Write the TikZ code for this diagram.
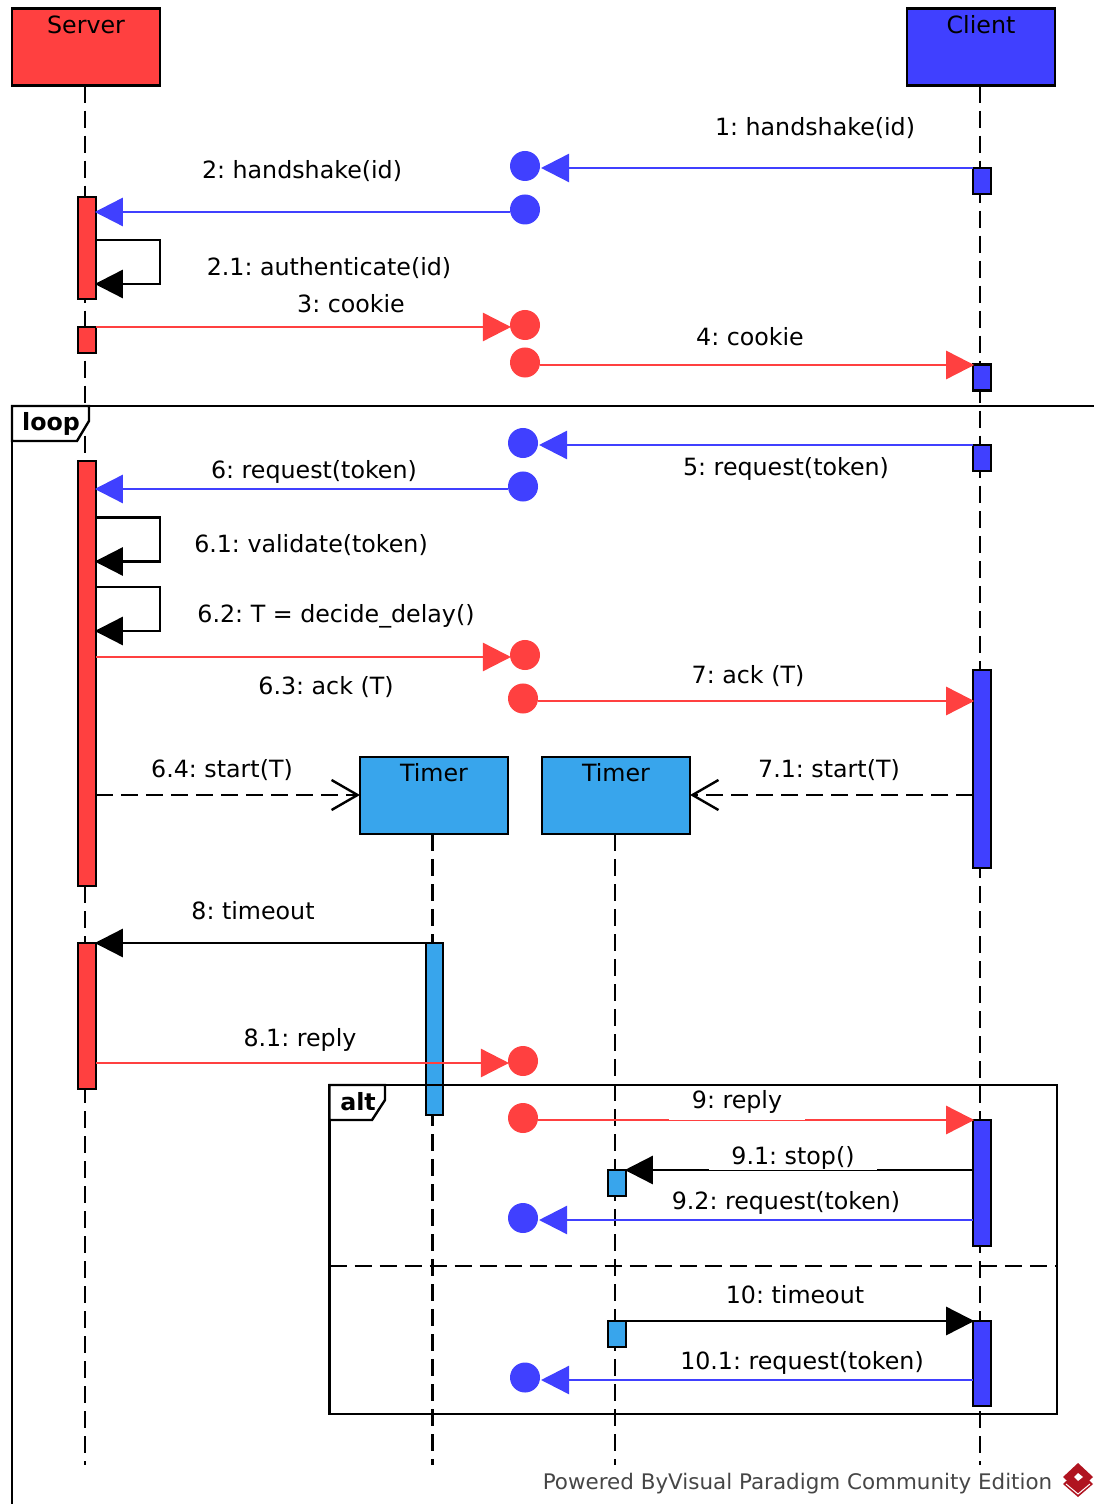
\documentclass[tikz,border=0pt]{standalone}
\usepackage{fontspec}
\setmainfont{DejaVu Sans}
\usetikzlibrary{positioning,arrows.meta}
\definecolor{serverred}{RGB}{255,64,64}
\definecolor{clientblue}{RGB}{64,64,255}
\definecolor{timerblue}{RGB}{56,165,236}
\definecolor{footgray}{RGB}{70,70,70}
\definecolor{logored}{RGB}{176,20,32}
\frenchspacing
\tikzset{
  every node/.style={font=\fontsize{6.75pt}{8pt}\selectfont\frenchspacing,outer sep=0pt},
  headbox/.style={draw=black,line width=.024cm,minimum width=1.48cm,inner sep=0pt,
    text height=.25cm,text depth=.52cm},
  lifeline/.style={line width=.024cm,dash pattern=on .17cm off .08cm},
  actbar/.style={draw=black,line width=.024cm,minimum width=.175cm,inner sep=0pt,anchor=north},
  dotmark/.style={circle,minimum size=.3cm,inner sep=0pt},
  redmsg/.style={draw=serverred,line width=.024cm,shorten >=-.01cm,-{Triangle[length=.28cm,width=.28cm,fill=serverred]}},
  bluemsg/.style={draw=clientblue,line width=.024cm,shorten >=-.01cm,-{Triangle[length=.28cm,width=.28cm,fill=clientblue]}},
  lostmsg/.style={bluemsg,shorten >=.01cm},
  callmsg/.style={draw=black,line width=.024cm,shorten >=-.01cm,-{Triangle[length=.28cm,width=.28cm,fill=black]}},
  startmsg/.style={draw=black,line width=.024cm,dash pattern=on .17cm off .08cm,
    -{Straight Barb[length=.26cm,width=.3cm]}},
  msglabel/.style={anchor=base,inner sep=0pt},
  framepath/.style={draw=black,line width=.024cm},
  tablabel/.style={anchor=base,inner sep=0pt,font=\fontsize{6.75pt}{8pt}\selectfont\bfseries},
}

\begin{document}
\begin{tikzpicture}[x=.01cm,y=-.01cm]
  \useasboundingbox (0,0) rectangle (1094,1504);

  % lifelines
  \node[headbox,fill=serverred] (server) at (86,47) {Server};
  \node[headbox,fill=clientblue] (client) at (981,47) {Client};
  \node[headbox,fill=timerblue] (timerA) at (434,795.5) {Timer};
  \node[headbox,fill=timerblue] (timerB) at (616,795.5) {Timer};
  \coordinate (serverend) at (85,1465);
  \coordinate (clientend) at (980,1465);
  \coordinate (timerAend) at (432.5,1465);
  \coordinate (timerBend) at (615,1465);
  \draw[lifeline] (serverend |- server.south) -- (serverend);
  \draw[lifeline] (clientend |- client.south) -- (clientend);
  \draw[lifeline] (timerAend |- timerA.south) -- (timerAend);
  \draw[lifeline] (timerBend |- timerB.south) -- (timerBend);

  % activation bars
  \node[actbar,fill=serverred,minimum height=1.02cm] (srvA) at (87,197) {};
  \node[actbar,fill=serverred,minimum height=.26cm] (srvB) at (87,327) {};
  \node[actbar,fill=serverred,minimum height=4.25cm] (srvC) at (87,461) {};
  \node[actbar,fill=serverred,minimum height=1.46cm] (srvD) at (87,943) {};
  \node[actbar,fill=clientblue,minimum height=.26cm] (cliA) at (982,168) {};
  \node[actbar,fill=clientblue,minimum height=.26cm] (cliB) at (982,364.5) {};
  \node[actbar,fill=clientblue,minimum height=.26cm] (cliC) at (982,445) {};
  \node[actbar,fill=clientblue,minimum height=1.98cm] (cliD) at (982,670) {};
  \node[actbar,fill=clientblue,minimum height=1.26cm] (cliE) at (982,1120) {};
  \node[actbar,fill=clientblue,minimum height=.85cm] (cliF) at (982,1321) {};
  \node[actbar,fill=timerblue,minimum height=1.72cm] (tmrA) at (434.5,943) {};
  \node[actbar,fill=timerblue,minimum height=.26cm] (tmrB) at (617,1170) {};
  \node[actbar,fill=timerblue,minimum height=.26cm] (tmrC) at (617,1321) {};

  % frames
  \draw[framepath] (12,1504) -- (12,406) -- (1094,406);
  \draw[framepath,fill=white] (12,406) -- (89,406) -- (89,421) -- (77,441) -- (12,441) -- cycle;
  \node[tablabel] (looptab) at (51,431) {loop};
  \draw[framepath] (329.5,1085) rectangle (1057,1414);
  \draw[framepath,fill=white] (329.5,1085) -- (385,1085) -- (385,1100) -- (372,1120) -- (329.5,1120) -- cycle;
  \node[tablabel] (alttab) at (358,1110) {alt};
  \coordinate (altleft) at (329.5,1266);
  \coordinate (altright) at (1057,1266);
  \draw[lifeline] (altleft) -- (altright);

  % found and lost message ends
  \node[dotmark,fill=clientblue] (dotA) at (525,166) {};
  \node[dotmark,fill=clientblue] (dotB) at (525,209.5) {};
  \node[dotmark,fill=serverred] (dotC) at (525,325) {};
  \node[dotmark,fill=serverred] (dotD) at (525,362.5) {};
  \node[dotmark,fill=clientblue] (dotE) at (523,443) {};
  \node[dotmark,fill=clientblue] (dotF) at (523,486.5) {};
  \node[dotmark,fill=serverred] (dotG) at (525,655) {};
  \node[dotmark,fill=serverred] (dotH) at (523,698.5) {};
  \node[dotmark,fill=serverred] (dotI) at (523,1061) {};
  \node[dotmark,fill=serverred] (dotJ) at (523,1118) {};
  \node[dotmark,fill=clientblue] (dotK) at (523,1218) {};
  \node[dotmark,fill=clientblue] (dotL) at (525,1377.5) {};

  % messages
  \coordinate (msgB) at (0,212);
  \coordinate (msgD) at (0,365);
  \coordinate (msgF) at (0,489);
  \coordinate (msgG) at (0,657);
  \coordinate (msgH) at (0,701);
  \coordinate (msgT) at (0,795);
  \coordinate (msgI) at (0,1063);
  \coordinate (msgK) at (0,1220);
  \coordinate (msgL) at (0,1380);
  \coordinate (selfA) at (0,240);
  \coordinate (selfB) at (0,517.5);
  \coordinate (selfC) at (0,587);
  \draw[lostmsg] (cliA.north west) -- (dotA.east |- cliA.north west);
  \draw[bluemsg] (msgB -| dotB.west) -- (msgB -| srvA.east);
  \draw[callmsg] (selfA -| srvA.east) -- ++(64,0) -- ++(0,44) -- ++(-64,0);
  \draw[redmsg] (srvB.north east) -- (dotC.west |- srvB.north east);
  \draw[redmsg] (msgD -| dotD.east) -- (msgD -| cliB.west);
  \draw[lostmsg] (cliC.north west) -- (dotE.east |- cliC.north west);
  \draw[bluemsg] (msgF -| dotF.west) -- (msgF -| srvC.east);
  \draw[callmsg] (selfB -| srvC.east) -- ++(64,0) -- ++(0,44) -- ++(-64,0);
  \draw[callmsg] (selfC -| srvC.east) -- ++(64,0) -- ++(0,44) -- ++(-64,0);
  \draw[redmsg] (msgG -| srvC.east) -- (msgG -| dotG.west);
  \draw[redmsg] (msgH -| dotH.east) -- (msgH -| cliD.west);
  \draw[startmsg] (msgT -| srvC.east) -- (msgT -| timerA.west);
  \draw[startmsg] (msgT -| cliD.west) -- (msgT -| timerB.east);
  \draw[callmsg] (tmrA.north west) -- (srvD.north east);
  \draw[redmsg] (msgI -| srvD.east) -- (msgI -| dotI.west);
  \draw[redmsg] (dotJ.east |- cliE.north west) -- (cliE.north west);
  \draw[callmsg] (cliE.west |- tmrB.north east) -- (tmrB.north east);
  \draw[lostmsg] (msgK -| cliE.west) -- (msgK -| dotK.east);
  \draw[callmsg] (tmrC.north east) -- (cliF.north west);
  \draw[lostmsg] (msgL -| cliF.west) -- (msgL -| dotL.east);

  % labels
  \node[msglabel] (lblA) at (815,136) {1: handshake(id)};
  \node[msglabel] (lblB) at (302,179) {2: handshake(id)};
  \node[msglabel] (lblBa) at (329,276) {2.1: authenticate(id)};
  \node[msglabel] (lblC) at (351,313) {3: cookie};
  \node[msglabel] (lblD) at (750,346) {4: cookie};
  \node[msglabel] (lblE) at (786,476) {5: request(token)};
  \node[msglabel] (lblF) at (314,479) {6: request(token)};
  \node[msglabel] (lblFa) at (311,553) {6.1: validate(token)};
  \node[msglabel] (lblFb) at (336,623) {6.2: T = decide\_delay()};
  \node[msglabel] (lblFc) at (326,695) {6.3: ack (T)};
  \node[msglabel] (lblG) at (748,683) {7: ack (T)};
  \node[msglabel] (lblFd) at (222,777) {6.4: start(T)};
  \node[msglabel] (lblGa) at (829,777) {7.1: start(T)};
  \node[msglabel] (lblH) at (253,919) {8: timeout};
  \node[msglabel] (lblHa) at (300,1046) {8.1: reply};
  \node[msglabel,fill=white,minimum width=1.35cm,text height=.2cm,text depth=.12cm] (lblI) at (737,1108) {9: reply};
  \node[msglabel,fill=white,minimum width=1.68cm,text height=.2cm,text depth=.06cm] (lblIa) at (793,1164) {9.1: stop()};
  \node[msglabel] (lblIb) at (786,1209) {9.2: request(token)};
  \node[msglabel] (lblJ) at (795,1303) {10: timeout};
  \node[msglabel] (lblJa) at (802,1369) {10.1: request(token)};

  % footer
  \node[msglabel,text=footgray,font=\fontsize{6.1pt}{8pt}\selectfont] (powered) at (797.5,1489) {Powered ByVisual Paradigm Community Edition};
  \fill[logored] (1078,1470) -- (1093,1484) -- (1078,1497) -- (1063,1484) -- cycle;
  \draw[white,line width=.01cm] (1066,1484) -- (1078,1494) -- (1090,1484);
  \fill[logored] (1078,1463) -- (1093,1477) -- (1078,1491) -- (1063,1477) -- cycle;
  \fill[white] (1078,1473) -- (1083,1477) -- (1078,1481) -- (1074,1477) -- cycle;
\end{tikzpicture}
\end{document}
